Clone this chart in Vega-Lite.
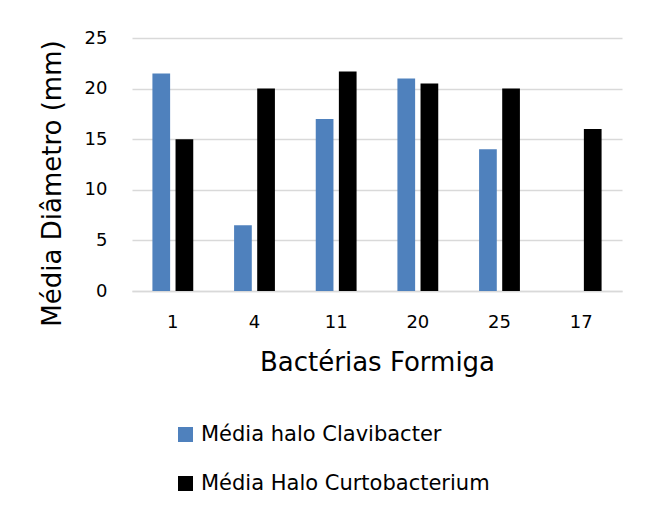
{
  "$schema": "https://vega.github.io/schema/vega-lite/v6.json",
  "autosize": {"type": "none"},
  "width": 490,
  "height": 253,
  "padding": {"left": 132, "top": 38, "right": 24, "bottom": 223},
  "background": "white",
  "data": {
    "values": [
      {"bacteria": "1", "serie": "Média halo Clavibacter", "valor": 21.5},
      {"bacteria": "1", "serie": "Média Halo Curtobacterium", "valor": 15.0},
      {"bacteria": "4", "serie": "Média halo Clavibacter", "valor": 6.5},
      {"bacteria": "4", "serie": "Média Halo Curtobacterium", "valor": 20.0},
      {"bacteria": "11", "serie": "Média halo Clavibacter", "valor": 17.0},
      {"bacteria": "11", "serie": "Média Halo Curtobacterium", "valor": 21.7},
      {"bacteria": "20", "serie": "Média halo Clavibacter", "valor": 21.0},
      {"bacteria": "20", "serie": "Média Halo Curtobacterium", "valor": 20.5},
      {"bacteria": "25", "serie": "Média halo Clavibacter", "valor": 14.0},
      {"bacteria": "25", "serie": "Média Halo Curtobacterium", "valor": 20.0},
      {"bacteria": "17", "serie": "Média Halo Curtobacterium", "valor": 16.0}
    ]
  },
  "mark": {"type": "bar"},
  "encoding": {
    "x": {
      "field": "bacteria",
      "type": "nominal",
      "sort": ["1", "4", "11", "20", "25", "17"],
      "scale": {"paddingInner": 0.5, "paddingOuter": 0.25},
      "axis": {
        "title": "Bactérias Formiga",
        "labelAngle": 0,
        "ticks": false,
        "tickSize": 0,
        "labelPadding": 22,
        "labelFont": "DejaVu Sans",
        "labelFontSize": 18,
        "labelColor": "#000000",
        "domainColor": "#D9D9D9",
        "domainWidth": 1.5,
        "titleFont": "DejaVu Sans",
        "titleFontSize": 26,
        "titleFontWeight": "normal",
        "titleColor": "#000000",
        "titleBaseline": "alphabetic",
        "titleY": 79
      }
    },
    "xOffset": {
      "field": "serie",
      "type": "nominal",
      "sort": ["Média halo Clavibacter", "Média Halo Curtobacterium"],
      "scale": {"paddingInner": 0.234, "paddingOuter": 0}
    },
    "y": {
      "field": "valor",
      "type": "quantitative",
      "scale": {"domain": [0, 25], "nice": false},
      "axis": {
        "title": "Média Diâmetro (mm)",
        "values": [0, 5, 10, 15, 20, 25],
        "domain": false,
        "ticks": false,
        "tickSize": 0,
        "labelPadding": 25,
        "labelFont": "DejaVu Sans",
        "labelFontSize": 18,
        "labelColor": "#000000",
        "gridColor": "#D9D9D9",
        "gridWidth": 1.5,
        "titleFont": "DejaVu Sans",
        "titleFontSize": 26,
        "titleFontWeight": "normal",
        "titleColor": "#000000",
        "titleBaseline": "alphabetic",
        "titleX": -72,
        "titleY": 145
      }
    },
    "color": {
      "field": "serie",
      "type": "nominal",
      "sort": ["Média halo Clavibacter", "Média Halo Curtobacterium"],
      "scale": {
        "domain": ["Média halo Clavibacter", "Média Halo Curtobacterium"],
        "range": ["#4F81BD", "#000000"]
      },
      "legend": {
        "title": null,
        "orient": "none",
        "legendX": 43,
        "legendY": 386,
        "direction": "vertical",
        "symbolType": "square",
        "symbolSize": 225,
        "symbolStrokeWidth": 0,
        "labelOffset": 5,
        "rowPadding": 27,
        "labelFont": "DejaVu Sans",
        "labelFontSize": 21,
        "labelColor": "#000000",
        "labelLimit": 0
      }
    }
  },
  "config": {
    "view": {"stroke": null}
  }
}
